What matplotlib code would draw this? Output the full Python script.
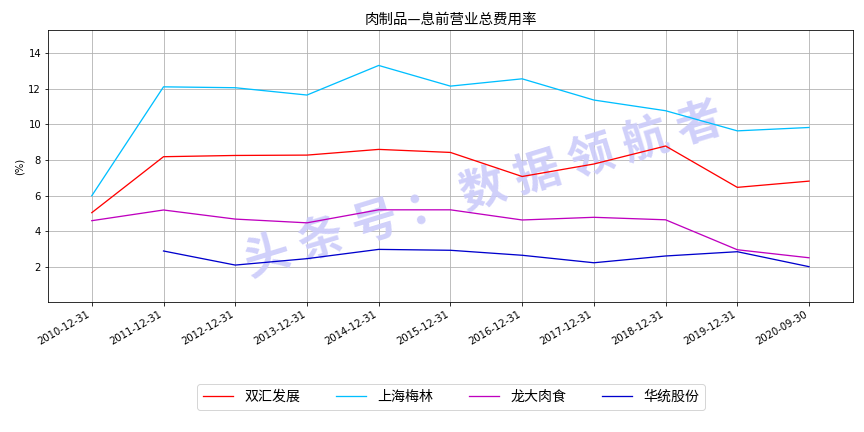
import matplotlib
matplotlib.use("Agg")
import matplotlib.pyplot as plt
import numpy as np

plt.rcParams['font.family'] = ['DejaVu Sans', 'Noto Sans CJK SC']

dates = ["2010-12-31", "2011-12-31", "2012-12-31", "2013-12-31", "2014-12-31",
         "2015-12-31", "2016-12-31", "2017-12-31", "2018-12-31", "2019-12-31",
         "2020-09-30"]
shuanghui = [5.05, 8.19, 8.26, 8.28, 8.60, 8.43, 7.08, 7.78, 8.79, 6.47, 6.82]
meilin = [6.00, 12.11, 12.06, 11.65, 13.31, 12.15, 12.56, 11.37, 10.77, 9.64, 9.83]
longda = [4.60, 5.20, 4.69, 4.48, 5.21, 5.21, 4.64, 4.79, 4.65, 2.97, 2.52]
huatong = [np.nan, 2.90, 2.11, 2.47, 2.99, 2.94, 2.66, 2.24, 2.62, 2.86, 2.02]
names = ["双汇发展", "上海梅林", "龙大肉食", "华统股份"]
title = "肉制品—息前营业总费用率"
watermark = "头 条 号 ： 数 据 领 航 者"

fig = plt.figure(figsize=(12, 6), dpi=72)
ax = fig.add_axes([0.0556, 0.301, 0.9314, 0.6296])
x = np.arange(len(dates))
ax.plot(x, shuanghui, color='red', lw=1.3, label=names[0], zorder=3)
ax.plot(x, meilin, color='deepskyblue', lw=1.3, label=names[1], zorder=3)
ax.plot(x, longda, color='m', lw=1.3, label=names[2], zorder=3)
ax.plot(x, huatong, color='mediumblue', lw=1.3, label=names[3], zorder=3)

ax.set_xticks(x)
ax.set_xticklabels(dates, rotation=30, ha='right', fontsize=10)
ax.set_xlim(-0.61, 10.61)
ax.set_ylim(0.04, 15.3)
ax.set_yticks([2, 4, 6, 8, 10, 12, 14])
ax.tick_params(axis='y', labelsize=10)
ax.grid(True, color='#b0b0b0', lw=0.8)
ax.set_ylabel("(%)", fontsize=10)
ax.set_title(title, fontsize=14.5, family=['Noto Sans CJK SC', 'DejaVu Sans'])

ax.text(0.56, 0.56, watermark, transform=fig.transFigure, fontsize=46,
        color='#cbcbfa', alpha=0.9, rotation=17, ha='center', va='center',
        style='italic', family=['Noto Sans CJK SC', 'DejaVu Sans'],
        fontweight='bold', zorder=2)

fig.legend(loc='center', bbox_to_anchor=(0.522, 0.081), ncol=4,
           prop={'family': ['Noto Sans CJK SC', 'DejaVu Sans'], 'size': 14},
           handlelength=2.2, columnspacing=2.5, frameon=True)

fig.savefig("out.png", dpi=72)
